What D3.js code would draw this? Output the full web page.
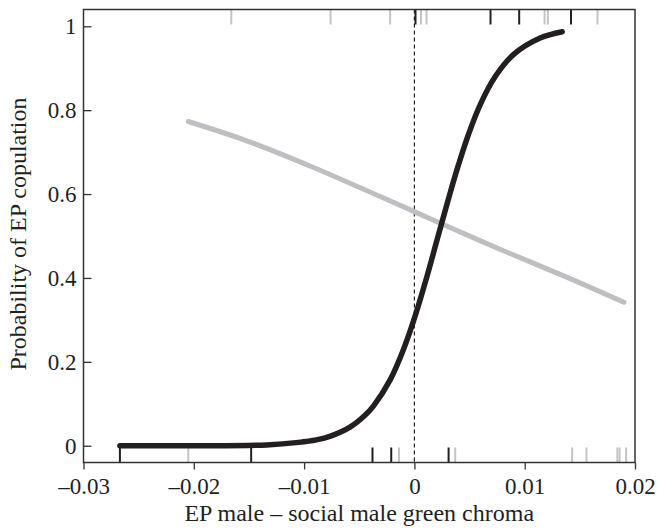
<!DOCTYPE html>
<html>
<head>
<meta charset="utf-8">
<script src="https://cdn.jsdelivr.net/npm/d3@7"></script>
<style>
  body { margin: 0; background: #fff; }
  svg text { font-family: "Liberation Serif", "DejaVu Serif", serif; fill: #231f20; }
</style>
</head>
<body>
<svg id="chart" width="657" height="530"></svg>
<script>
// tick values
var xTicks = [-0.03, -0.02, -0.01, 0, 0.01, 0.02];
var yTicks = [0, 0.2, 0.4, 0.6, 0.8, 1];

// fitted curves [x, p]
var blackCurve = [
  [-0.0267, 0.000], [-0.0200, 0.000], [-0.0134, 0.002], [-0.0105, 0.008],
  [-0.0089, 0.014], [-0.0076, 0.023], [-0.0058, 0.045], [-0.0045, 0.072],
  [-0.0037, 0.095], [-0.0022, 0.157], [-0.0010, 0.229], [0.0001, 0.312],
  [0.0011, 0.400], [0.0021, 0.495], [0.0032, 0.599], [0.0040, 0.670],
  [0.0049, 0.742], [0.0060, 0.815], [0.0073, 0.879], [0.0090, 0.933],
  [0.0114, 0.972], [0.0134, 0.987]
];
var grayCurve = [
  [-0.0205, 0.773], [-0.0152, 0.727], [-0.0092, 0.664], [-0.0031, 0.594],
  [0.0001, 0.557], [0.0023, 0.531], [0.0078, 0.468], [0.0138, 0.402],
  [0.0190, 0.342]
];

// rug marks (observations)
var blackTop = [0.0001, 0.0069, 0.0095, 0.0142];
var grayTop = [-0.0166, -0.0076, -0.0022, 0.0006, 0.0011, 0.0118, 0.0121, 0.0166];
var blackBottom = [-0.0267, -0.0148, -0.0038, -0.0021, 0.0031];
var grayBottom = [-0.0205, -0.0014, 0.0037, 0.0143, 0.0156, 0.0184, 0.0186, 0.0192];

var drawChart = function() {
  var svg = d3.select("svg#chart");

  var box = { left: 83.5, right: 635, top: 9.5, bottom: 462.5 };

  var xScale = d3.scaleLinear().domain([-0.03, 0.02]).range([box.left, box.right]);
  var yScale = d3.scaleLinear().domain([-0.04, 1.04]).range([box.bottom, box.top]);

  var black = "#231f20";
  var gray = "#bebfc2";
  var rugLen = 15;

  var fmt = function(d) {
    if (d === 0) return "0";
    var s = d3.format(".2~f")(Math.abs(d));
    return (d < 0 ? "\u2013" : "") + s;
  };

  // x axis
  var xAxis = d3.axisBottom(xScale)
    .tickValues(xTicks)
    .tickFormat(fmt)
    .tickSize(7)
    .tickSizeOuter(0)
    .tickPadding(8);

  svg.append("g")
    .attr("id", "x-axis")
    .attr("transform", "translate(0," + box.bottom + ")")
    .call(xAxis)
    .call(function(g) { g.select(".domain").remove(); })
    .call(function(g) {
      g.selectAll("line").attr("stroke", "#333").attr("stroke-width", 1.3);
      g.selectAll("text").attr("font-size", 23).attr("fill", black);
    });

  // y axis, ticks pointing inward
  var yAxis = d3.axisLeft(yScale)
    .tickValues(yTicks)
    .tickFormat(function(d) { return d === 0 ? "0" : d === 1 ? "1" : d3.format(".1f")(d); })
    .tickSize(-8)
    .tickSizeOuter(0)
    .tickPadding(7);

  svg.append("g")
    .attr("id", "y-axis")
    .attr("transform", "translate(" + box.left + ",0)")
    .call(yAxis)
    .call(function(g) { g.select(".domain").remove(); })
    .call(function(g) {
      g.selectAll("line").attr("stroke", "#333").attr("stroke-width", 1.3);
      g.selectAll("text").attr("font-size", 23).attr("fill", black);
    });

  // dashed zero line
  svg.append("line")
    .attr("x1", xScale(0)).attr("x2", xScale(0))
    .attr("y1", box.top).attr("y2", box.bottom)
    .attr("stroke", black)
    .attr("stroke-width", 1.2)
    .attr("stroke-dasharray", "4,3");

  // rugs
  var drawRug = function(values, color, atTop) {
    svg.append("g")
      .selectAll("line")
      .data(values)
      .enter()
      .append("line")
      .attr("x1", d => xScale(d)).attr("x2", d => xScale(d))
      .attr("y1", atTop ? box.top : box.bottom)
      .attr("y2", atTop ? box.top + rugLen : box.bottom - rugLen)
      .attr("stroke", color)
      .attr("stroke-width", 2);
  };
  drawRug(grayTop, "#c4c4c6", true);
  drawRug(grayBottom, "#c4c4c6", false);
  drawRug(blackTop, black, true);
  drawRug(blackBottom, black, false);

  // curves
  var line = d3.line()
    .x(d => xScale(d[0]))
    .y(d => yScale(d[1]))
    .curve(d3.curveCatmullRom.alpha(0.5));

  svg.append("path")
    .datum(grayCurve)
    .attr("d", line)
    .attr("fill", "none")
    .attr("stroke", gray)
    .attr("stroke-width", 5)
    .attr("stroke-linecap", "round");

  svg.append("path")
    .datum(blackCurve)
    .attr("d", line)
    .attr("fill", "none")
    .attr("stroke", black)
    .attr("stroke-width", 5.5)
    .attr("stroke-linecap", "round");

  // frame
  svg.append("rect")
    .attr("x", box.left).attr("y", box.top)
    .attr("width", box.right - box.left).attr("height", box.bottom - box.top)
    .attr("fill", "none")
    .attr("stroke", "#333")
    .attr("stroke-width", 1.5);

  // axis titles
  svg.append("text")
    .attr("x", (box.left + box.right) / 2)
    .attr("y", 521)
    .attr("text-anchor", "middle")
    .attr("font-size", 24)
    .text("EP male \u2013 social male green chroma");

  svg.append("text")
    .attr("transform", "translate(26,234) rotate(-90)")
    .attr("text-anchor", "middle")
    .attr("font-size", 24)
    .text("Probability of EP copulation");
};

drawChart();
</script>
</body>
</html>
